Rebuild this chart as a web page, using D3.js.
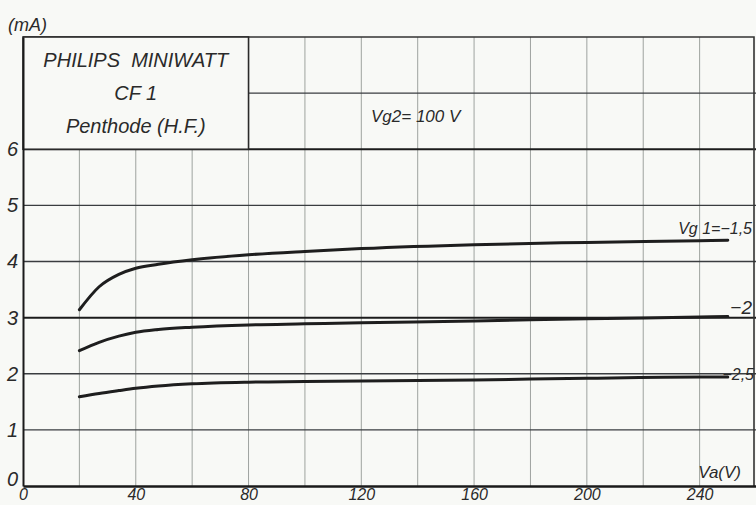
<!DOCTYPE html>
<html>
<head>
<meta charset="utf-8">
<script src="https://cdn.jsdelivr.net/npm/d3@7"></script>
<style>
  html, body { margin: 0; padding: 0; background: #f8f9f6; }
  svg { display: block; }
  text { font-family: "Liberation Sans", Arial, sans-serif; font-style: italic; fill: #2a2a2a; }
</style>
</head>
<body>
<div id="chart"></div>
<script>
// Data
const va = [20, 27, 34, 40, 48, 60, 80, 100, 120, 160, 200, 240, 250]
const ia_g1_15 = [3.14, 3.55, 3.77, 3.88, 3.95, 4.03, 4.12, 4.18, 4.23, 4.30, 4.34, 4.37, 4.38]
const ia_g1_20 = [2.41, 2.56, 2.67, 2.74, 2.79, 2.83, 2.87, 2.89, 2.91, 2.94, 2.98, 3.01, 3.02]
const ia_g1_25 = [1.59, 1.65, 1.70, 1.74, 1.78, 1.82, 1.85, 1.86, 1.87, 1.89, 1.92, 1.94, 1.94]
const curveLabels = ['Vg 1=\u22121,5', '\u22122', '\u22122,5']
const xTicks = [0, 40, 80, 120, 160, 200, 240]
const yTicks = [0, 1, 2, 3, 4, 5, 6]
const titleLines = ['PHILIPS  MINIWATT', 'CF 1', 'Penthode (H.F.)']

const series = [ia_g1_15, ia_g1_20, ia_g1_25].map((s, i) => ({
  label: curveLabels[i],
  points: va.map((v, j) => ({ v: v, i: s[j] }))
}))

// Dimensions
const width = 756
const height = 505

const svg = d3.select('#chart')
  .append('svg')
  .attr('width', width)
  .attr('height', height)

svg.append('rect')
  .attr('width', width)
  .attr('height', height)
  .attr('fill', '#f8f9f6')

// Scales
const xScale = d3.scaleLinear()
  .domain([0, 260])
  .range([23, 756])

const yScale = d3.scaleLinear()
  .domain([0, 8])
  .range([486, 37])

// vertical grid every 20 V
const vGrid = d3.range(20, 260, 20)
svg.append('g')
  .selectAll('line')
  .data(vGrid)
  .join('line')
  .attr('x1', d => xScale(d))
  .attr('x2', d => xScale(d))
  .attr('y1', yScale(0))
  .attr('y2', yScale(8))
  .attr('stroke', '#9ea39f')
  .attr('stroke-width', 1)

// horizontal grid every 1 mA
const hGrid = d3.range(1, 8)
svg.append('g')
  .selectAll('line')
  .data(hGrid)
  .join('line')
  .attr('x1', xScale(0))
  .attr('x2', xScale(260))
  .attr('y1', d => yScale(d))
  .attr('y2', d => yScale(d))
  .attr('stroke', d => (d === 3 || d === 6) ? '#1c1c1c' : '#3a3d40')
  .attr('stroke-width', d => (d === 3 || d === 6) ? 2 : 1.4)

// frame (top + right)
svg.append('path')
  .attr('d', `M${xScale(0)},${yScale(8)}H${xScale(260) - 2}V${yScale(0)}`)
  .attr('fill', 'none')
  .attr('stroke', '#333')
  .attr('stroke-width', 1.6)

// title box, covers the grid from 0..80 V, 6..8 mA
svg.append('rect')
  .attr('x', xScale(0))
  .attr('y', yScale(8))
  .attr('width', xScale(80) - xScale(0))
  .attr('height', yScale(6) - yScale(8))
  .attr('fill', '#f8f9f6')
  .attr('stroke', '#2a2a2a')
  .attr('stroke-width', 1.6)

svg.append('g')
  .selectAll('text')
  .data(titleLines)
  .join('text')
  .attr('x', xScale(40))
  .attr('y', (d, i) => 67 + i * 33)
  .attr('text-anchor', 'middle')
  .attr('font-size', 20)
  .attr('xml:space', 'preserve')
  .style('white-space', 'pre')
  .text(d => d)

// Axes
const xAxis = d3.axisBottom(xScale)
  .tickValues(xTicks)
  .tickSize(0)
  .tickPadding(3)
svg.append('g')
  .attr('transform', `translate(0, ${yScale(0)})`)
  .call(xAxis)
  .call(g => g.select('.domain').attr('stroke', '#1a1a1a').attr('stroke-width', 2.4))
  .call(g => g.selectAll('text').attr('font-size', 16).attr('fill', '#2a2a2a'))

const yAxis = d3.axisLeft(yScale)
  .tickValues(yTicks)
  .tickSize(0)
  .tickPadding(5)
svg.append('g')
  .attr('transform', `translate(${xScale(0)}, 0)`)
  .call(yAxis)
  .call(g => g.select('.domain').attr('stroke', '#1a1a1a').attr('stroke-width', 2))
  .call(g => g.selectAll('text').attr('font-size', 20).attr('fill', '#2a2a2a'))
  .call(g => g.selectAll('.tick').filter(d => d === 0).select('text').attr('dy', '-0.05em'))

svg.selectAll('.tick text').style('font-family', '"Liberation Sans", Arial, sans-serif').style('font-style', 'italic')

// Curves
const line = d3.line()
  .x(d => xScale(d.v))
  .y(d => yScale(d.i))
  .curve(d3.curveMonotoneX)

svg.append('g')
  .selectAll('path')
  .data(series)
  .join('path')
  .attr('d', d => line(d.points))
  .attr('fill', 'none')
  .attr('stroke', '#1e1e1e')
  .attr('stroke-width', 3)
  .attr('stroke-linecap', 'round')

// curve labels
const labelPos = [
  { x: 752, y: 234, size: 16 },
  { x: 752, y: 314, size: 19 },
  { x: 754, y: 380, size: 16 }
]
svg.append('g')
  .selectAll('text')
  .data(series)
  .join('text')
  .attr('x', (d, i) => labelPos[i].x)
  .attr('y', (d, i) => labelPos[i].y)
  .attr('text-anchor', 'end')
  .attr('font-size', (d, i) => labelPos[i].size)
  .text(d => d.label)

// other labels
svg.append('text')
  .attr('x', 8)
  .attr('y', 31)
  .attr('font-size', 18)
  .text('(mA)')

svg.append('text')
  .attr('x', 741)
  .attr('y', 478)
  .attr('text-anchor', 'end')
  .attr('font-size', 17)
  .text('Va(V)')

svg.append('text')
  .attr('x', 371)
  .attr('y', 122)
  .attr('font-size', 17)
  .text('Vg2= 100 V')
</script>
</body>
</html>
